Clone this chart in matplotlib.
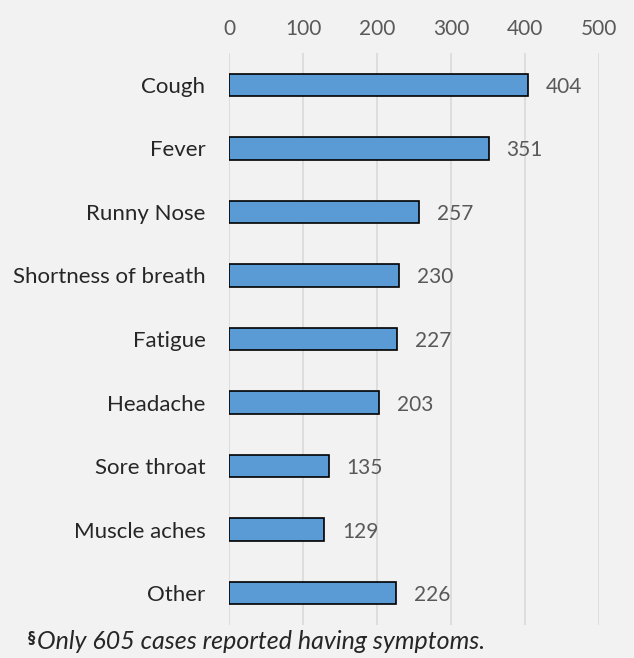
import numpy as np
from matplotlib import pyplot as plt

symptoms = ['Cough', 'Fever', 'Runny Nose', 'Shortness of breath', 'Fatigue',
            'Headache', 'Sore throat', 'Muscle aches', 'Other']
counts = [404, 351, 257, 230, 227, 203, 135, 129, 226]
x_ticks = [0, 100, 200, 300, 400, 500]

plt.rcParams['font.family'] = ['Lato', 'DejaVu Sans']

bg = '#F2F2F2'
fig = plt.figure(figsize=(6.34, 6.58), dpi=100, facecolor=bg)
ax = fig.add_axes([0.3612, 0.0505, 0.5836, 0.8686], facecolor=bg)

y = np.arange(len(symptoms))
ax.barh(y, counts, height=0.35, color='#5B9BD5', edgecolor='black', linewidth=1.2, zorder=3)
for yi, v in zip(y, counts):
    ax.text(v + 24, yi, str(v), va='center_baseline', ha='left', fontsize=15, color='#595959')

ax.set_xlim(0, 500)
ax.set_ylim(len(symptoms) - 0.5, -0.5)
ax.set_xticks(x_ticks)
ax.xaxis.tick_top()
ax.set_yticks(y, symptoms)
ax.tick_params(axis='x', length=0, labelsize=15, labelcolor='#595959', pad=10)
ax.tick_params(axis='y', length=0, labelsize=16, labelcolor='#262626', pad=17)
for lbl in ax.get_yticklabels():
    lbl.set_verticalalignment('center_baseline')
ax.grid(axis='x', color='#D9D9D9', linewidth=1.2, zorder=0)
for s in ax.spines.values():
    s.set_visible(False)

# footnote with bold section sign
fig.text(0.042, 0.014, r'$^{\mathbf{\S}}$', fontsize=15, color='#262626', va='baseline')
fig.text(0.058, 0.014, 'Only 605 cases reported having symptoms.', fontsize=18,
         style='italic', color='#262626', va='baseline')

fig.savefig('out.png', dpi=100, facecolor=bg)
